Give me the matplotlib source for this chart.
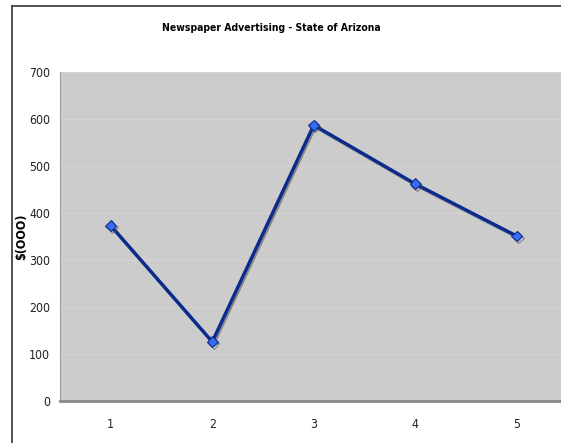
import matplotlib
matplotlib.use("Agg")
import matplotlib.pyplot as plt
import matplotlib.patheffects as pe
from matplotlib.lines import Line2D

categories = [1, 2, 3, 4, 5]
values = [373, 126, 587, 462, 351]
yticks = [0, 100, 200, 300, 400, 500, 600, 700]
title = "Newspaper Advertising - State of Arizona"
ylabel = "$(OOO)"

plt.rcParams['font.family'] = ['DejaVu Sans']
plt.rcParams['font.stretch'] = 'condensed'

fig = plt.figure(figsize=(5.61, 4.43), dpi=100)
fig.patch.set_facecolor('white')
# outer chart border (only left/top visible)
bx, by = 11.5/561, 1 - 5.5/443
fig.add_artist(Line2D([bx, bx], [0, by], transform=fig.transFigure, color='#444444', linewidth=1.3))
fig.add_artist(Line2D([bx, 1], [by, by], transform=fig.transFigure, color='#444444', linewidth=1.3))

ax = fig.add_axes([60/561, 42/443, 507.5/561, 329/443])
ax.set_facecolor('#cccccc')
x = list(range(len(categories)))
ax.set_xlim(-0.5, len(categories) - 0.5)
ax.set_ylim(0, 700)
ax.set_yticks(yticks)
ax.set_xticks(x)
ax.set_xticklabels([str(c) for c in categories])
ax.grid(axis='y', color='#d4d4d4', linewidth=0.8)
ax.set_axisbelow(True)
ax.tick_params(length=0, labelsize=8.8, colors='#222222')
ax.tick_params(axis='y', pad=7)
ax.tick_params(axis='x', pad=12)
for s in ['top', 'right']:
    ax.spines[s].set_visible(False)
ax.spines['left'].set_color('#999999')
ax.spines['bottom'].set_color('#888888')
ax.spines['bottom'].set_linewidth(2)

ax.plot(x, values, color='#0a2a8f', linewidth=2.4, marker='D', markersize=5.5,
        markerfacecolor='#3a6cf0', markeredgecolor='#0a2a8f', markeredgewidth=0.8,
        path_effects=[pe.SimpleLineShadow(offset=(1, -1.2), shadow_color='#555555', alpha=0.6), pe.Normal()])

ax.set_ylabel(ylabel, fontsize=9, fontweight='bold')
ax.yaxis.set_label_coords(-0.062, 0.5)
fig.text(271.5/561, 1 - 28/443, title, ha='center', va='center', fontsize=7.5, fontweight='bold')

fig.savefig('out.png', dpi=100)
